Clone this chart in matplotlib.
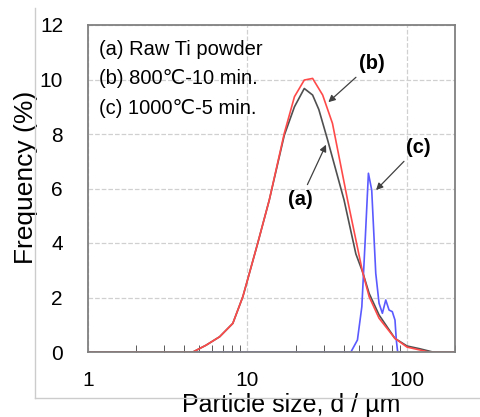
import matplotlib
matplotlib.use('Agg')
import matplotlib.pyplot as plt
from matplotlib.lines import Line2D
from matplotlib.ticker import LogLocator, NullFormatter, FixedLocator

plt.rcParams['font.family'] = ['Liberation Sans', 'DejaVu Sans']

# (a) raw Ti powder
size_a = [1, 4.55, 5.5, 6.69, 8.09, 9.35, 10, 11.6, 13.7, 17.0, 19.7, 22.7, 25.6, 28.0,
          31.8, 40.3, 47.8, 52.6, 57.9, 66.8, 84, 100, 120, 145, 200]
freq_a = [0, 0, 0.25, 0.56, 1.05, 2.03, 2.64, 4.0, 5.58, 7.95, 9.0, 9.67, 9.43, 8.9,
          7.78, 5.58, 3.6, 2.95, 2.15, 1.36, 0.5, 0.22, 0.12, 0, 0]

# (b) 800 C - 10 min
size_b = [1, 4.55, 5.5, 6.69, 8.09, 9.35, 10, 11.6, 13.7, 17.0, 19.7, 22.7, 25.6, 29.6,
          34.1, 42.4, 52.6, 57.9, 66.8, 84, 100, 137, 200]
freq_b = [0, 0, 0.25, 0.56, 1.05, 2.03, 2.64, 4.0, 5.58, 8.02, 9.37, 9.98, 10.04, 9.43,
          8.39, 5.58, 2.95, 2.03, 1.24, 0.5, 0.18, 0, 0]

# (c) 1000 C - 5 min
size_c = [4.55, 44.5, 48.9, 52.1, 54.7, 57.3, 60.1, 63.7, 66.8, 70.1, 73.6,
          77.2, 80.9, 84.1, 85.7, 87.4, 93]
freq_c = [0, 0, 0.44, 1.66, 4.11, 6.56, 5.94, 2.89, 1.79, 1.42, 1.91,
          1.54, 1.48, 1.17, 0.44, 0, 0]

fig = plt.figure(figsize=(4.81, 4.17), dpi=100)
fig.add_artist(Line2D([35/481, 35/481], [1-8/417, 1-398/417], color='#cccccc', lw=1))
fig.add_artist(Line2D([35/481, 1], [1-398/417, 1-398/417], color='#cccccc', lw=1))

ax = fig.add_axes([88/481, 1-352/417, (455-88)/481, (352-25)/417])
ax.set_xscale('log')
ax.plot(size_a, freq_a, color='#505050', lw=1.2)
ax.plot(size_c, freq_c, color='#5a5aff', lw=1.2)
ax.plot(size_b, freq_b, color='#ff4a4a', lw=1.2)

ax.set_xlim(1, 200)
ax.set_ylim(0, 12)
ax.set_yticks(range(0, 13, 2))
ax.xaxis.set_major_locator(FixedLocator([1, 10, 100]))
ax.set_xticklabels(['1', '10', '100'])
ax.xaxis.set_minor_locator(LogLocator(base=10, subs=range(2, 10)))
ax.xaxis.set_minor_formatter(NullFormatter())
ax.tick_params(axis='x', which='minor', direction='in', length=5, color='#404040')
ax.tick_params(axis='x', which='major', direction='in', length=0, pad=14, labelsize=15)
ax.tick_params(axis='y', direction='in', length=0, pad=18, labelsize=15)
ax.grid(True, which='major', ls='--', color='#d0d0d0', lw=0.9)
for s in ax.spines.values():
    s.set_color('#808080')
    s.set_linewidth(1.3)

ax.set_ylabel('Frequency (%)', fontsize=19)
ax.yaxis.set_label_coords(-0.135, 0.534)
ax.set_xlabel('Particle size, d / µm', fontsize=18)
ax.xaxis.set_label_coords(0.554, -0.125)

legend_lines = ['(a) Raw Ti powder', '(b) 800℃-10 min.', '(c) 1000℃-5 min.']
for i, t in enumerate(legend_lines):
    ax.text(0.03, 0.925 - i * 0.09, t, transform=ax.transAxes, fontsize=14.5,
            ha='left', va='center')

arrow = dict(arrowstyle='-|>', color='#404040', lw=0.9, mutation_scale=10)
ax.annotate('(a)', xy=(31.6, 7.7), xytext=(21.5, 5.6), fontsize=14.5, fontweight='bold',
            ha='center', va='center', arrowprops=arrow)
ax.annotate('(b)', xy=(31.2, 9.1), xytext=(60, 10.6), fontsize=14.5, fontweight='bold',
            ha='center', va='center', arrowprops=arrow)
ax.annotate('(c)', xy=(62.2, 5.87), xytext=(117, 7.52), fontsize=14.5, fontweight='bold',
            ha='center', va='center', arrowprops=arrow)

fig.savefig('out.png', dpi=100)
